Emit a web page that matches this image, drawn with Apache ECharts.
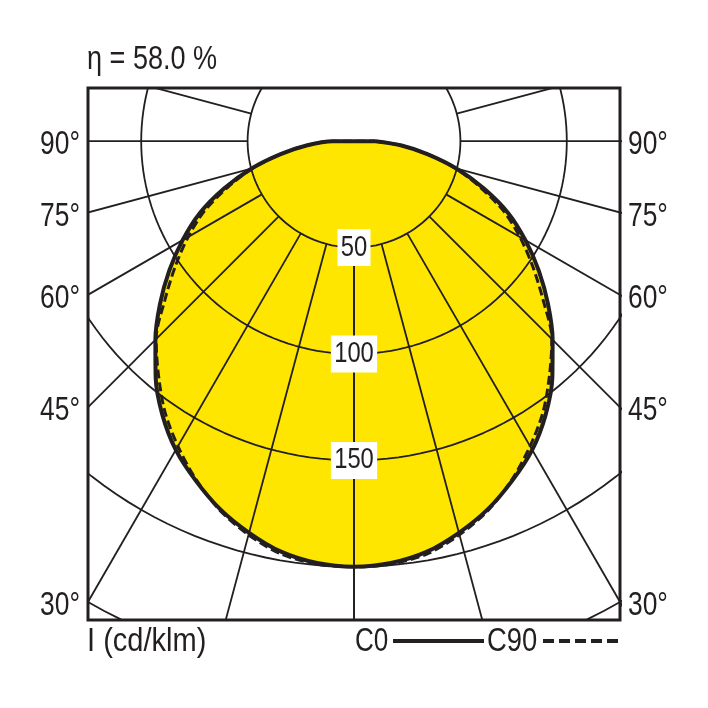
<!DOCTYPE html>
<html>
<head>
<meta charset="utf-8">
<script src="https://cdn.jsdelivr.net/npm/echarts@6/dist/echarts.min.js"></script>
<style>
html,body{margin:0;padding:0;background:#fff;}
#chart{width:708px;height:708px;}
</style>
</head>
<body>
<div id="chart"></div>
<script>
// ---- data (cd/klm) ----
const ANGLES = [0,5,10,15,20,25,30,35,40,45,50,55,60,65,70,75,80,85,90];
const C0  = [200,199,196,190.5,184,176,167.5,157,145,132,119,106,93,80,65,50,35,22,10];
const C90 = [200,199.5,197,191.5,184.5,175.5,165.5,155,143,131.5,116,102.5,90,77.5,63,49.5,35,22,10];
const RING_VALUES = [50,100,150,200,250];
const RING_LABELS = ['50','100','150'];
const SPOKE_ANGLES = [0,15,30,45,60,75,90,105,120,135,150,165,180];
const ANGLE_TICKS = [90,75,60,45,30];
const ANGLE_TICK_LABELS = ['90°','75°','60°','45°','30°'];
const TITLE = 'η = 58.0 %';
const UNIT = 'I (cd/klm)';
const SERIES_NAMES = ['C0','C90'];

// axis extents (same unit as intensities)
const X_MIN = -125, X_MAX = 125, Y_MIN = -225, Y_MAX = 25;

const INK = '#231f20';
const FONT = "'Liberation Sans', Arial, sans-serif";
const NARROW = 0.82;
const rad = d => d * Math.PI / 180;
const pol = (r, deg, side) => [side * r * Math.sin(rad(deg)), -r * Math.cos(rad(deg))];

function curvePoints(vals) {
  const pts = [];
  for (let i = ANGLES.length - 1; i >= 0; i--) pts.push(pol(vals[i], ANGLES[i], 1));
  for (let i = 1; i < ANGLES.length; i++) pts.push(pol(vals[i], ANGLES[i], -1));
  pts.push(pts[0]);
  return pts;
}

const series = [];

// yellow fill
series.push({
  type: 'custom',
  z: 1,
  silent: true,
  clip: true,
  data: [0],
  renderItem: function (params, api) {
    const pts = curvePoints(C0).map(p => api.coord(p));
    return {
      type: 'polygon',
      shape: { points: pts, smooth: 0.3 },
      style: { fill: '#ffe600', stroke: null }
    };
  }
});

// rings
RING_VALUES.forEach(r => {
  const d = [];
  for (let a = 0; a <= 360; a += 2) d.push(pol(r, a, 1));
  series.push({
    type: 'line', data: d, symbol: 'none', silent: true, clip: true, z: 2,
    lineStyle: { color: INK, width: 1.8 }, animation: false
  });
});

// spokes
SPOKE_ANGLES.forEach(a => {
  [1, -1].forEach(side => {
    series.push({
      type: 'line', data: [pol(RING_VALUES[0], a, side), pol(400, a, side)],
      symbol: 'none', silent: true, clip: true, z: 2,
      lineStyle: { color: INK, width: 1.8 }, animation: false
    });
  });
});

// curves
series.push({
  name: SERIES_NAMES[0], type: 'line', data: curvePoints(C0), symbol: 'none',
  smooth: 0.3, z: 4, silent: true,
  lineStyle: { color: INK, width: 4, type: 'solid' }
});
series.push({
  name: SERIES_NAMES[1], type: 'line', data: curvePoints(C90), symbol: 'none',
  smooth: 0.3, z: 5, silent: true,
  lineStyle: { color: INK, width: 3, type: [9, 4] }
});

const chart = echarts.init(document.getElementById('chart'), null, { renderer: 'canvas' });
chart.setOption({
  animation: false,
  backgroundColor: '#fff',
  grid: { left: 88, right: 88, top: 88, bottom: 88, show: true, borderColor: INK, borderWidth: 3, backgroundColor: 'transparent' },
  xAxis: { type: 'value', min: X_MIN, max: X_MAX, show: false },
  yAxis: { type: 'value', min: Y_MIN, max: Y_MAX, show: false },
  series: series
});

// ---- text (condensed look via horizontal scaling) ----
const toPx = p => chart.convertToPixel({ gridIndex: 0 }, p);
function txt(text, x, y, size, align, extra, sx) {
  return {
    type: 'text', x: x, y: y, scaleX: sx || NARROW, z: 100,
    style: Object.assign({ text: text, font: size + 'px ' + FONT, fill: INK, align: align, verticalAlign: 'middle' }, extra || {})
  };
}
const graphics = [];
graphics.push(txt(TITLE, 87, 60, 33, 'left'));
graphics.push(txt(UNIT, 87, 642, 33, 'left', null, 0.88));

// angle labels at frame edges
ANGLE_TICKS.forEach((a, i) => {
  const yv = a === 90 ? 0 : -X_MAX / Math.tan(rad(a));
  const L = toPx([X_MIN, yv]);
  const R = toPx([X_MAX, yv]);
  graphics.push(txt(ANGLE_TICK_LABELS[i], L[0] - 8, L[1] + 4, 33, 'right', null, 0.8));
  graphics.push(txt(ANGLE_TICK_LABELS[i], R[0] + 8, R[1] + 4, 33, 'left', null, 0.8));
});

// ring labels with white boxes
RING_LABELS.forEach((t, i) => {
  const p = toPx([0, -RING_VALUES[i]]);
  graphics.push(txt(t, p[0], p[1], 29, 'center', { backgroundColor: '#fff', padding: [4, 4, 4, 4], lineHeight: 29 }));
});

// legend
graphics.push(txt(SERIES_NAMES[0], 355, 642, 33, 'left', null, 0.79));
graphics.push({ type: 'line', z: 100, shape: { x1: 393, y1: 641, x2: 484, y2: 641 }, style: { stroke: INK, lineWidth: 4 } });
graphics.push(txt(SERIES_NAMES[1], 487, 642, 33, 'left', null, 0.83));
graphics.push({ type: 'line', z: 100, shape: { x1: 543, y1: 641, x2: 618, y2: 641 }, style: { stroke: INK, lineWidth: 4, lineDash: [11, 5] } });

chart.setOption({ graphic: graphics });
</script>
</body>
</html>
